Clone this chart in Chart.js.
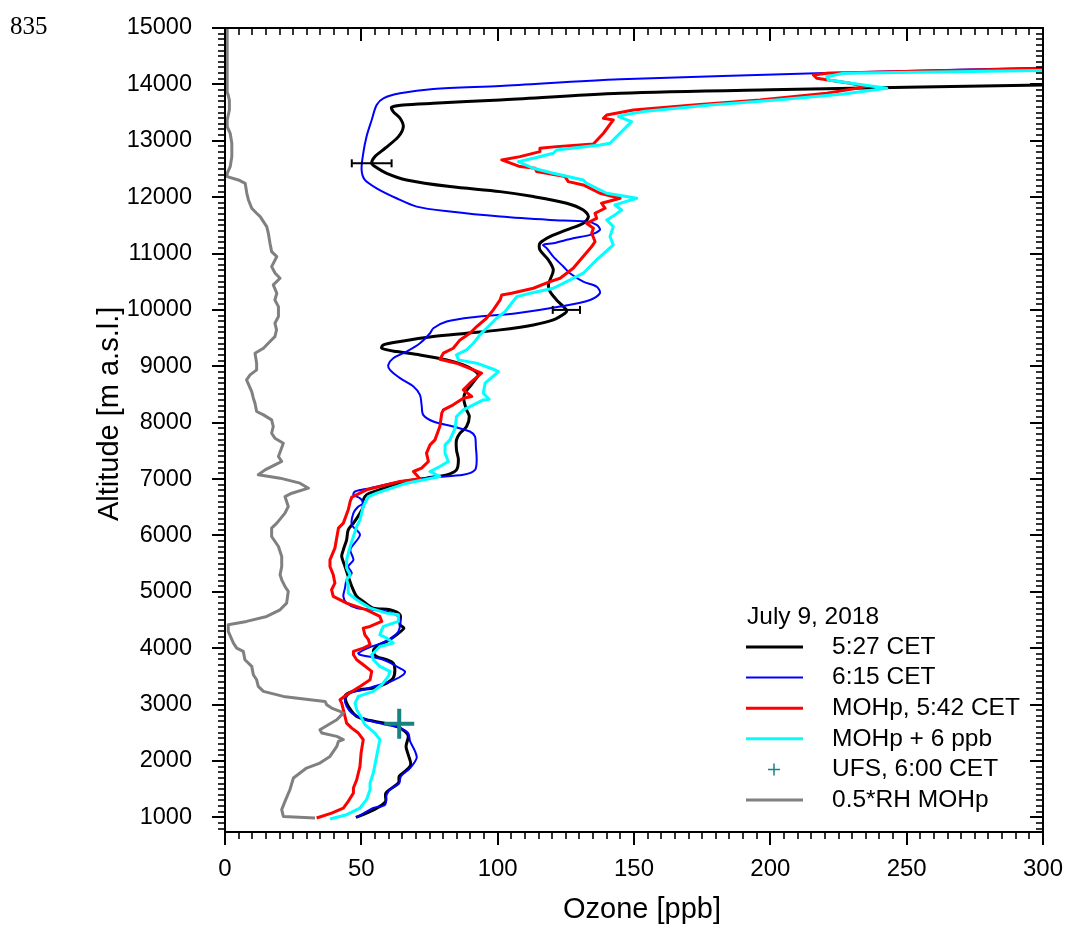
<!DOCTYPE html>
<html>
<head>
<meta charset="utf-8">
<title>Ozone profiles, July 9, 2018</title>
<script src="https://cdn.jsdelivr.net/npm/chart.js@4.4.1/dist/chart.umd.min.js"></script>
<style>
  html, body { margin: 0; padding: 0; background: #fff; }
  #wrap { position: relative; width: 1065px; height: 930px; }
</style>
</head>
<body>
<div id="wrap"><canvas id="profile" width="1065" height="930"></canvas></div>
<script>
// Ozone soundings, 5:27 CET
const blackO3 = [48, 51.9, 56.8, 58.9, 59, 63.6, 63.9, 66, 68.1, 67.2, 66.4, 67.2, 66, 62.9, 58.1, 51.9, 48.3, 46.5, 44.6, 44, 45.2, 49.5, 54.4, 59.3, 61.7, 62.3, 61.7, 59.3, 55.6, 54.4, 55.6, 59.3, 62.9, 65.6, 64.2, 64.2, 60.5, 54.4, 50.7, 48.3, 46.5, 45.2, 44, 42.8, 43.4, 44.6, 45.2, 47.1, 49.5, 50.7, 50.7, 51.9, 54.4, 64.2, 73.9, 81.3, 84.9, 85.6, 84.9, 84.9, 86.2, 88.6, 89.6, 88.6, 87.6, 88, 89.8, 91.7, 92.9, 91.1, 87.4, 81.3, 71.5, 62.9, 57.5, 58.1, 64.2, 76.4, 88.6, 100.9, 113.1, 120.4, 124.7, 125.3, 124.1, 121.6, 119.2, 118.6, 119.2, 120.4, 118.6, 115.5, 115.5, 119.2, 125.3, 131.4, 133.3, 131.4, 125.3, 113.1, 100.9, 82.5, 66.6, 59.3, 55, 53.8, 55, 58.7, 63.6, 65.4, 64.2, 61.7, 61.1, 65.4, 76.4, 100.9, 145, 200, 300];
const blackAlt = [1000, 1076, 1195, 1283, 1431, 1608, 1727, 1815, 1933, 2111, 2258, 2436, 2524, 2613, 2672, 2731, 2790, 2879, 3027, 3145, 3204, 3263, 3293, 3381, 3470, 3618, 3736, 3795, 3854, 3943, 4031, 4120, 4238, 4356, 4416, 4593, 4681, 4711, 4829, 4918, 5095, 5273, 5450, 5627, 5745, 5922, 6099, 6218, 6395, 6513, 6631, 6720, 6773, 6927, 7016, 7075, 7163, 7341, 7518, 7695, 7813, 7932, 8109, 8227, 8404, 8523, 8641, 8759, 8848, 8936, 9025, 9114, 9202, 9261, 9320, 9380, 9439, 9527, 9586, 9646, 9734, 9823, 9941, 9988, 10059, 10177, 10325, 10443, 10532, 10710, 10887, 11064, 11182, 11300, 11419, 11537, 11655, 11773, 11892, 12010, 12098, 12187, 12305, 12423, 12542, 12601, 12719, 12867, 13073, 13251, 13399, 13517, 13594, 13635, 13665, 13724, 13842, 13905, 13990];

// 6:15 CET
const blueO3 = [48.3, 54.4, 58.7, 59.3, 61.1, 63.8, 64.5, 67.9, 70.3, 69.7, 67.9, 67.2, 64.2, 59.3, 51.9, 46.5, 44.6, 44, 45.9, 50.7, 56.8, 61.7, 65.4, 66, 62.9, 58.1, 49.5, 48.9, 53.2, 56.8, 61.1, 63.6, 64.2, 63.6, 59.3, 54.4, 48.3, 44.6, 43.4, 44, 44.6, 46.5, 45.2, 47.1, 46, 49.5, 46.5, 47.1, 48.9, 50.7, 49.5, 47.1, 47.7, 53.2, 64.2, 76.4, 87.4, 91.7, 92.3, 92, 91.7, 89.8, 83.7, 76.4, 72.7, 72.1, 71.5, 69.1, 64.2, 60.5, 59.9, 61.7, 66.6, 71.5, 75.2, 76.4, 81.3, 91.1, 107, 122.9, 133.9, 137.5, 136.3, 131.4, 126.5, 124.1, 120.4, 118, 116.7, 120.4, 127.7, 133.9, 137.5, 136.3, 132.6, 119.2, 100.9, 82.5, 70.3, 62.9, 55.6, 51.3, 50.1, 50.7, 51.9, 53.8, 55.6, 58.1, 64.2, 76.4, 100.9, 145, 220, 300];
const blueAlt = [1000, 1165, 1224, 1401, 1520, 1596, 1727, 1874, 2052, 2170, 2347, 2495, 2583, 2643, 2731, 2849, 2968, 3086, 3204, 3263, 3352, 3429, 3529, 3588, 3677, 3795, 3884, 3913, 4020, 4079, 4179, 4297, 4445, 4563, 4652, 4681, 4711, 4800, 4918, 5066, 5213, 5331, 5449, 5567, 5750, 6011, 6188, 6395, 6513, 6572, 6661, 6720, 6779, 6838, 6956, 7033, 7075, 7163, 7341, 7577, 7754, 7843, 7932, 8020, 8138, 8316, 8493, 8641, 8789, 8936, 9025, 9143, 9261, 9409, 9586, 9675, 9793, 9870, 9941, 10059, 10177, 10296, 10414, 10502, 10651, 10769, 10946, 11094, 11153, 11182, 11271, 11330, 11419, 11507, 11566, 11596, 11655, 11744, 11832, 11980, 12157, 12305, 12483, 12778, 13073, 13369, 13635, 13753, 13842, 13919, 13972, 14090, 14200, 14297];

// MOHp, 5:42 CET
const redO3 = [33.6, 39.1, 43.4, 45.2, 47.1, 47.1, 48.3, 49.5, 49.9, 50.7, 48.9, 46.5, 44.6, 44, 43.4, 42.8, 42.2, 44.6, 49.5, 53.2, 53.8, 50.7, 48.3, 47.1, 47.1, 50.7, 53.2, 52.6, 51.3, 50.7, 53.2, 57.5, 56.8, 51.9, 44.6, 39.7, 39.1, 40.3, 39.7, 38.5, 38.5, 40.3, 41.6, 43.4, 45.2, 45.9, 46.5, 51.9, 64.2, 71.5, 69.1, 72.1, 74.6, 73.9, 75.2, 77, 78.8, 79.5, 80.1, 83.7, 87.4, 90.5, 87.4, 89.8, 94.1, 91.1, 84.9, 78.8, 80.1, 83.7, 86.2, 89.8, 92.3, 95.9, 98.4, 100.9, 101.5, 105.1, 113.1, 119.2, 122.9, 127.7, 134.5, 135.7, 134.5, 135.1, 132.6, 136.3, 135.7, 139.4, 138.1, 144.9, 137.5, 131.4, 125.9, 124.7, 114.3, 113.7, 108.2, 101.5, 108.2, 115.5, 115.5, 121.6, 135.1, 138.8, 142.4, 138.8, 140, 149.8, 171.8, 196.2, 220.7, 235.3, 229.2, 217, 215.8, 220.7, 245.1, 300];
const redAlt = [988, 1076, 1165, 1283, 1431, 1520, 1667, 1904, 2140, 2377, 2495, 2583, 2672, 2790, 2909, 3027, 3086, 3175, 3322, 3440, 3588, 3706, 3795, 3884, 3943, 4002, 4061, 4150, 4238, 4356, 4386, 4475, 4563, 4681, 4800, 4918, 5036, 5154, 5302, 5450, 5567, 5775, 6129, 6218, 6454, 6602, 6679, 6809, 6956, 7004, 7134, 7193, 7311, 7459, 7607, 7695, 7932, 8168, 8227, 8316, 8434, 8464, 8582, 8700, 8877, 8936, 9055, 9125, 9232, 9320, 9468, 9586, 9705, 9852, 10000, 10177, 10266, 10296, 10384, 10502, 10562, 10739, 11123, 11212, 11360, 11448, 11537, 11625, 11714, 11803, 11892, 11980, 12069, 12216, 12275, 12364, 12453, 12512, 12542, 12660, 12719, 12808, 12867, 12896, 12944, 13133, 13369, 13399, 13458, 13546, 13635, 13724, 13842, 13960, 14019, 14108, 14167, 14197, 14226, 14280];

// MOHp + 6 ppb
const cyanO3 = [38.5, 44.6, 49.5, 51.9, 53.2, 53.2, 54.4, 55.6, 56.8, 55, 51.3, 50.1, 48.3, 47.7, 48.9, 54.4, 57.5, 59.9, 60.5, 56.8, 54.4, 53.8, 56.8, 61.7, 59.3, 56.8, 57.5, 58.1, 63.6, 63.6, 59.3, 53.2, 48.3, 45.2, 45.2, 44.6, 45.9, 44.6, 44.6, 45.9, 48.3, 49.5, 50.7, 52.6, 55.6, 66.6, 78.8, 75.2, 78.8, 81.9, 80.7, 80.7, 82.5, 84.4, 84.9, 87.4, 91.1, 94.7, 96.9, 94.7, 95.4, 100.3, 98.4, 92.3, 85.6, 84.9, 88.6, 91.1, 93.5, 96.6, 99.6, 102.7, 105.1, 107, 111.9, 120.4, 125.3, 131.4, 136.3, 142.4, 141.2, 142.4, 140, 143, 145.5, 143, 151, 140, 132.6, 131.4, 120.4, 113.1, 107.6, 113.1, 120.4, 121.6, 137.5, 141.2, 149.1, 144.3, 146.1, 153.4, 177.9, 202.3, 226.8, 242.7, 221.3, 220.7, 226.8, 300];
const cyanAlt = [970, 1047, 1165, 1313, 1490, 1608, 1786, 2081, 2377, 2495, 2643, 2761, 2909, 3027, 3145, 3234, 3352, 3499, 3588, 3677, 3795, 3884, 4031, 4091, 4179, 4238, 4327, 4386, 4475, 4593, 4622, 4711, 4859, 4977, 5125, 5213, 5302, 5420, 5567, 5804, 6159, 6277, 6513, 6690, 6750, 6927, 7045, 7134, 7222, 7311, 7459, 7607, 7695, 7902, 8109, 8227, 8316, 8404, 8416, 8523, 8700, 8907, 8948, 9055, 9114, 9202, 9291, 9409, 9557, 9705, 9852, 9970, 10118, 10236, 10296, 10384, 10502, 10651, 10887, 11153, 11300, 11478, 11596, 11685, 11773, 11862, 11980, 12069, 12246, 12305, 12423, 12512, 12630, 12689, 12778, 12837, 12926, 12955, 13340, 13428, 13458, 13517, 13635, 13724, 13830, 13930, 14078, 14137, 14197, 14244];

// UFS, 6:00 CET
const ufsO3 = [63.9];
const ufsAlt = [2660];

// 0.5*RH from MOHp
const rhHalf = [33, 21.4, 20.8, 22, 23.8, 25.1, 29.9, 34.8, 38.5, 41, 41.6, 43.4, 41, 35.5, 34.8, 37.9, 41, 42.2, 43.4, 42.2, 39.1, 37.3, 36.7, 31.2, 21.4, 14.1, 12.2, 11.6, 10.4, 9.8, 7.3, 6.7, 4.3, 3.1, 1.2, 1.2, 7.9, 15.3, 20.2, 22.6, 23.2, 22, 20.8, 20.2, 20.8, 20.8, 19.6, 17.1, 17.1, 19, 22, 23.2, 22, 24.5, 30.6, 27.5, 20.2, 12.2, 14.7, 18.3, 20.8, 19.6, 21.4, 18.3, 17.1, 17.7, 17.1, 14.1, 11.6, 11, 10.4, 9.8, 7.9, 9.2, 11.6, 11.6, 11, 14.1, 16.5, 18.3, 18.9, 18.3, 19.6, 19.6, 18.3, 19, 17.7, 20.2, 18.4, 17.1, 19, 17.1, 16.5, 15.9, 15.3, 14.1, 12.9, 11.6, 9.8, 8.6, 8, 7.4, 4.9, 0.8, 0.8, 1.9, 2.5, 2.5, 1.9, 0.8, 0.8, 1.6, 1.6, 1, 0.8, 0.8, 0.8];
const rhAlt = [988, 1017, 1136, 1283, 1490, 1697, 1874, 1963, 2081, 2258, 2347, 2380, 2436, 2495, 2554, 2643, 2731, 2790, 2849, 2879, 2938, 2997, 3056, 3086, 3145, 3234, 3322, 3440, 3529, 3677, 3795, 3943, 4002, 4091, 4297, 4416, 4475, 4563, 4681, 4800, 5007, 5095, 5213, 5302, 5450, 5627, 5804, 5981, 6129, 6218, 6395, 6513, 6690, 6749, 6838, 6927, 7016, 7075, 7163, 7252, 7311, 7400, 7636, 7725, 7813, 7932, 8050, 8138, 8198, 8345, 8434, 8552, 8759, 8848, 8936, 9055, 9232, 9320, 9439, 9527, 9646, 9764, 9882, 10059, 10177, 10296, 10443, 10561, 10650, 10768, 10945, 11034, 11182, 11359, 11477, 11566, 11654, 11714, 11802, 11950, 12068, 12245, 12305, 12364, 12423, 12541, 12718, 12955, 13132, 13250, 13368, 13546, 13723, 13841, 13959, 14300, 15000];

// error bars on the 5:27 sounding
const errAlt = [12600, 10000];
const errO3 = [53.8, 125.2];
const errHalf = [7.3, 5];

const xTicks = [0, 50, 100, 150, 200, 250, 300];
const yTicks = [1000, 2000, 3000, 4000, 5000, 6000, 7000, 8000, 9000, 10000, 11000, 12000, 13000, 14000, 15000];
const legendTitle = 'July 9, 2018';

const FONT = '"Liberation Sans", Arial, sans-serif';

function pts(xs, ys) {
  return xs.map((v, i) => ({ x: v, y: ys[i] }));
}

function line(label, xs, ys, color, width, tension, order) {
  return {
    label: label,
    data: pts(xs, ys),
    showLine: true,
    borderColor: color,
    backgroundColor: color,
    borderWidth: width,
    borderJoinStyle: 'round',
    tension: tension,
    pointRadius: 0,
    pointHoverRadius: 0,
    order: order
  };
}

// axis frame with minor/major ticks (outside on left/bottom, inside on top/right)
const frame = {
  id: 'frame',
  afterDatasetsDraw(chart) {
    const { ctx, chartArea: a, scales: { x, y } } = chart;
    ctx.save();
    ctx.strokeStyle = '#000';
    const seg = (x1, y1, x2, y2) => {
      ctx.beginPath();
      ctx.moveTo(x1, y1);
      ctx.lineTo(x2, y2);
      ctx.stroke();
    };
    for (let v = 0; v <= 300; v += 5) {
      const px = Math.round(x.getPixelForValue(v));
      const major = v % 50 === 0;
      const len = major ? 13 : 7;
      ctx.lineWidth = major ? 2 : 1.6;
      seg(px, a.bottom, px, a.bottom + len);
      seg(px, a.top, px, a.top + len);
    }
    for (let v = 800; v <= 15000; v += 100) {
      const py = Math.round(y.getPixelForValue(v));
      const major = v % 1000 === 0;
      const len = major ? 13 : 7;
      ctx.lineWidth = major ? 2 : 1.6;
      seg(a.left - len, py, a.left, py);
      seg(a.right - len, py, a.right, py);
    }
    ctx.lineWidth = 2;
    ctx.strokeRect(a.left, a.top, a.right - a.left, a.bottom - a.top);

    // error bars
    ctx.lineWidth = 2;
    errAlt.forEach((alt, i) => {
      const py = y.getPixelForValue(alt);
      const x1 = x.getPixelForValue(errO3[i] - errHalf[i]);
      const x2 = x.getPixelForValue(errO3[i] + errHalf[i]);
      seg(x1, py, x2, py);
      seg(x1, py - 4, x1, py + 4);
      seg(x2, py - 4, x2, py + 4);
    });
    ctx.restore();
  }
};

const legendBox = {
  id: 'legendBox',
  afterDraw(chart) {
    const ctx = chart.ctx;
    ctx.save();
    ctx.fillStyle = '#000';
    ctx.textBaseline = 'middle';
    ctx.font = '24.5px ' + FONT;
    ctx.fillText(legendTitle, 747, 617);
    chart.data.datasets.forEach((ds, i) => {
      const yy = 647 + i * 30.6;
      ctx.strokeStyle = ds.borderColor;
      ctx.beginPath();
      if (ds.showLine) {
        ctx.lineWidth = ds.borderWidth;
        ctx.moveTo(746, yy);
        ctx.lineTo(803, yy);
      } else {
        ctx.lineWidth = 1.5;
        ctx.moveTo(768, yy);
        ctx.lineTo(780, yy);
        ctx.moveTo(774, yy - 6);
        ctx.lineTo(774, yy + 6);
      }
      ctx.stroke();
      ctx.fillText(ds.label, 832, yy);
    });
    // page number
    ctx.font = '25px "Liberation Serif", "Times New Roman", serif';
    ctx.textBaseline = 'alphabetic';
    ctx.fillText('835', 10, 34);
    ctx.restore();
  }
};

Chart.defaults.font.family = FONT;
Chart.defaults.color = '#000';

new Chart(document.getElementById('profile'), {
  type: 'scatter',
  data: {
    datasets: [
      line('5:27 CET', blackO3, blackAlt, '#000000', 3, 0.3, 5),
      line('6:15 CET', blueO3, blueAlt, '#0000ff', 2, 0.3, 4),
      line('MOHp, 5:42 CET', redO3, redAlt, '#ff0000', 3, 0, 3),
      line('MOHp + 6 ppb', cyanO3, cyanAlt, '#00ffff', 3, 0, 2),
      {
        label: 'UFS, 6:00 CET',
        data: pts(ufsO3, ufsAlt),
        showLine: false,
        pointStyle: 'cross',
        pointRadius: 15,
        pointHoverRadius: 15,
        borderColor: '#178282',
        backgroundColor: '#178282',
        borderWidth: 4,
        order: 0
      },
      line('0.5*RH MOHp', rhHalf, rhAlt, '#808080', 3, 0, 1)
    ]
  },
  options: {
    responsive: false,
    animation: false,
    events: [],
    layout: { padding: { top: 28, right: 22, left: 0, bottom: 0 } },
    plugins: { legend: { display: false }, tooltip: { enabled: false } },
    scales: {
      x: {
        type: 'linear',
        position: 'bottom',
        min: 0,
        max: 300,
        afterBuildTicks: s => { s.ticks = xTicks.map(v => ({ value: v })); },
        afterFit: s => {
          s.height = 98;
          s.paddingLeft = 0;
          s.paddingRight = 0;
        },
        grid: { display: false },
        border: { display: false },
        ticks: { padding: 15, font: { size: 24 }, maxRotation: 0, autoSkip: false, callback: v => String(v) },
        title: { display: true, text: '  Ozone [ppb]', font: { size: 29 }, padding: { top: 0, bottom: 3 } }
      },
      y: {
        type: 'linear',
        position: 'left',
        min: 740,
        max: 15000,
        afterBuildTicks: s => { s.ticks = yTicks.map(v => ({ value: v })); },
        afterFit: s => {
          s.width = 225;
          s.paddingTop = 0;
          s.paddingBottom = 0;
        },
        grid: { display: false },
        border: { display: false },
        ticks: { padding: 25, font: { size: 23.5 }, autoSkip: false, callback: v => String(v) },
        title: { display: true, text: '    Altitude [m a.s.l.]', font: { size: 29 }, padding: { top: 93, bottom: 0 } }
      }
    }
  },
  plugins: [frame, legendBox]
});
</script>
</body>
</html>
